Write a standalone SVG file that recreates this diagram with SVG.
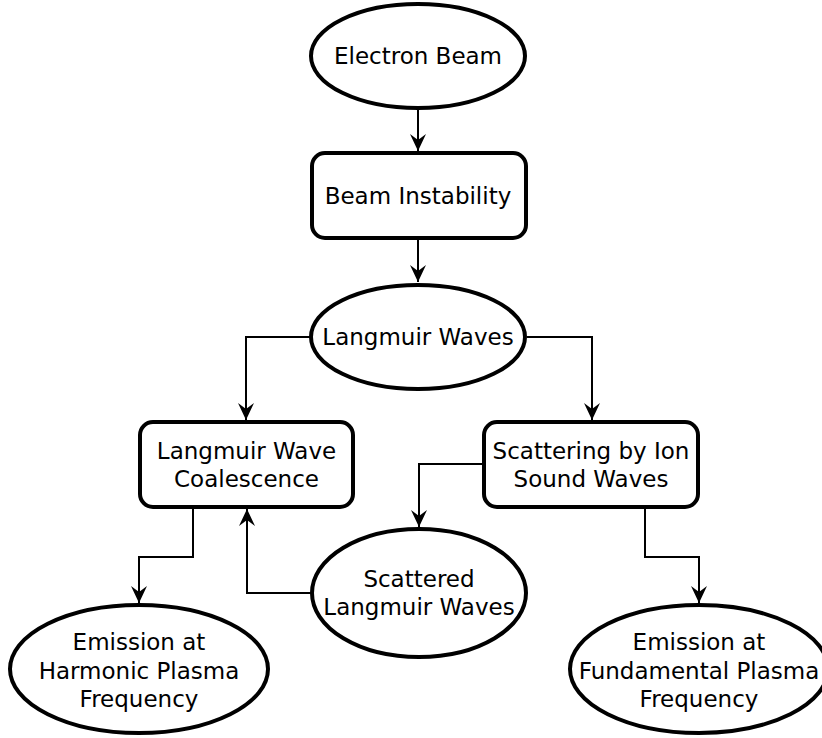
<svg xmlns="http://www.w3.org/2000/svg" width="822" height="738" viewBox="0 0 822 738">
<defs>
<style>
.node{fill:#ffffff;stroke:#000000;stroke-width:4}
.edge{fill:none;stroke:#000000;stroke-width:2}
.lbl{font-family:"DejaVu Sans","Liberation Sans",sans-serif;font-size:23px;fill:#000000;text-anchor:middle}
</style>
<marker id="arr" viewBox="0 0 17 16" refX="17" refY="8" markerWidth="17" markerHeight="16" markerUnits="userSpaceOnUse" orient="auto">
<path d="M0,0 L17,8 L0,16 L6,8 z" fill="#000000"/>
</marker>
</defs>
<rect width="822" height="738" fill="#ffffff"/>
<g id="connectors">
<path class="edge" d="M418,110 L418,151" marker-end="url(#arr)"/>
<path class="edge" d="M418,240 L418,282" marker-end="url(#arr)"/>
<path class="edge" d="M310,337 L246,337 L246,420" marker-end="url(#arr)"/>
<path class="edge" d="M527,337 L592,337 L592,420" marker-end="url(#arr)"/>
<path class="edge" d="M483,464 L419,464 L419,527" marker-end="url(#arr)"/>
<path class="edge" d="M311,593 L247,593 L247,509" marker-end="url(#arr)"/>
<path class="edge" d="M193,509 L193,557 L139,557 L139,603" marker-end="url(#arr)"/>
<path class="edge" d="M645,509 L645,557 L699,557 L699,603" marker-end="url(#arr)"/>
</g>
<g id="electron-beam">
<ellipse class="node" cx="418" cy="56" rx="107" ry="52"/>
<text class="lbl" x="418" y="64">Electron Beam</text>
</g>
<g id="beam-instability">
<rect class="node" x="312" y="153" width="214" height="85" rx="13"/>
<text class="lbl" x="418" y="204">Beam Instability</text>
</g>
<g id="langmuir-waves">
<ellipse class="node" cx="418" cy="337" rx="107" ry="52"/>
<text class="lbl" x="418" y="345">Langmuir Waves</text>
</g>
<g id="coalescence">
<rect class="node" x="140" y="422" width="213" height="85" rx="13"/>
<text class="lbl" x="246.5" y="459">Langmuir Wave</text>
<text class="lbl" x="246.5" y="487">Coalescence</text>
</g>
<g id="scattering">
<rect class="node" x="484" y="422" width="214" height="85" rx="13"/>
<text class="lbl" x="591" y="459">Scattering by Ion</text>
<text class="lbl" x="591" y="487">Sound Waves</text>
</g>
<g id="scattered">
<ellipse class="node" cx="419" cy="593" rx="107" ry="64"/>
<text class="lbl" x="419" y="587">Scattered</text>
<text class="lbl" x="419" y="615">Langmuir Waves</text>
</g>
<g id="harmonic">
<ellipse class="node" cx="139" cy="669" rx="129" ry="64"/>
<text class="lbl" x="139" y="650">Emission at</text>
<text class="lbl" x="139" y="678.5">Harmonic Plasma</text>
<text class="lbl" x="139" y="707">Frequency</text>
</g>
<g id="fundamental">
<ellipse class="node" cx="699" cy="669" rx="129" ry="64"/>
<text class="lbl" x="699" y="650">Emission at</text>
<text class="lbl" x="699" y="678.5">Fundamental Plasma</text>
<text class="lbl" x="699" y="707">Frequency</text>
</g>
</svg>
